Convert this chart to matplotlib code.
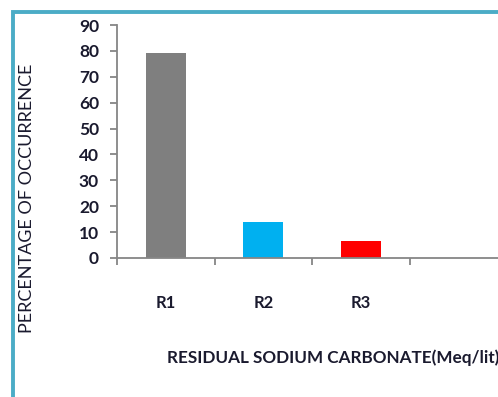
import matplotlib.pyplot as plt
from matplotlib.patches import Rectangle

categories = ["R1", "R2", "R3", ""]
occurrence = [79.3, 14.0, 6.4, 0]
bar_colors = ["#7f7f7f", "#00b0f0", "#ff0000", "none"]
yticks = [0, 10, 20, 30, 40, 50, 60, 70, 80, 90]

plt.rcParams["font.family"] = ["Lato", "DejaVu Sans"]

fig = plt.figure(figsize=(4.98, 3.97), dpi=100)
ax = fig.add_axes([117 / 498, 1 - 258 / 397, 390 / 498, 233 / 397])

x = range(len(categories))
ax.bar(x, occurrence, width=0.41, color=bar_colors)

ax.set_xlim(-0.5, len(categories) - 0.5)
ax.set_ylim(0, 90)
ax.set_yticks(yticks)
ax.set_xticks(list(x))
ax.set_xticklabels(categories)
# category boundary ticks on the x axis
ax.set_xticks([i - 0.5 for i in range(len(categories) + 1)], minor=True)
ax.tick_params(axis="x", which="major", length=0, pad=27, labelsize=12,
               labelcolor="#1a1a2e")
ax.tick_params(axis="x", which="minor", length=5, width=1.3, color="#868686",
               direction="out")
ax.tick_params(axis="y", length=5, width=1.3, color="#868686", labelsize=12.5,
               labelcolor="#1a1a2e", pad=8)
for lbl in ax.get_xticklabels() + ax.get_yticklabels():
    lbl.set_fontweight("bold")

for side in ["top", "right"]:
    ax.spines[side].set_visible(False)
for side in ["left", "bottom"]:
    ax.spines[side].set_color("#868686")
    ax.spines[side].set_linewidth(1.3)

fig.text(27 / 498, 1 - 198 / 397, "PERCENTAGE OF OCCURRENCE", rotation=90,
         ha="center", va="center", fontsize=13, color="#1a1a2e")
fig.text(167 / 498, 1 - 358 / 397, "RESIDUAL SODIUM CARBONATE(Meq/lit)",
         ha="left", va="center", fontsize=12.3, fontweight="bold",
         color="#1a1a2e")

# chart area border
fig.patches.append(Rectangle((12.5 / 498, -0.1), 1.2, 1 - 12.5 / 397 + 0.1,
                             transform=fig.transFigure, fill=False,
                             edgecolor="#4bacc6", linewidth=2.8))

fig.savefig("out.png", dpi=100)
